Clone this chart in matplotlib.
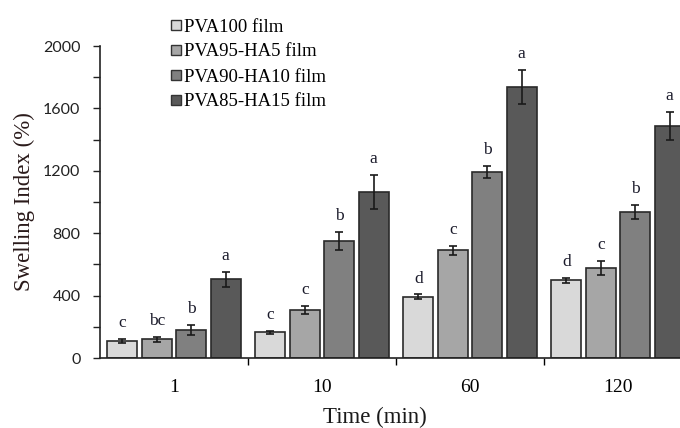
import matplotlib
matplotlib.use("Agg")
import matplotlib.pyplot as plt
from matplotlib.lines import Line2D
import numpy as np

times = ["1", "10", "60", "120"]
series_names = ["PVA100 film", "PVA95-HA5 film", "PVA90-HA10 film", "PVA85-HA15 film"]
colors = ["#d9d9d9", "#a6a6a6", "#808080", "#595959"]

pva100 = [110, 165, 393, 498]
pva95 = [120, 308, 690, 579]
pva90 = [180, 750, 1192, 934]
pva85 = [504, 1065, 1739, 1487]

err100 = [12, 8, 15, 18]
err95 = [15, 25, 30, 45]
err90 = [30, 60, 40, 45]
err85 = [50, 110, 110, 90]

let100 = ["c", "c", "d", "d"]
let95 = ["bc", "c", "c", "c"]
let90 = ["b", "b", "b", "b"]
let85 = ["a", "a", "a", "a"]

values = [pva100, pva95, pva90, pva85]
errors = [err100, err95, err90, err85]
letters = [let100, let95, let90, let85]

serif = ["Liberation Serif", "DejaVu Serif"]
sans = ["Lato", "DejaVu Sans"]

fig = plt.figure(figsize=(6.8, 4.28), dpi=100)
ax = fig.add_axes([100/680, 70/428, 592/680, 312/428])

x = np.arange(len(times))
w = 0.2
step = 0.233
edge = "#2a2a2a"
for i in range(4):
    pos = x + (i - 1.5) * step
    ax.bar(pos, values[i], width=w, color=colors[i], edgecolor=edge, linewidth=1.2, zorder=2)
    ax.errorbar(pos, values[i], yerr=errors[i], fmt="none", ecolor="#1a1a1a",
                elinewidth=1.2, capsize=3, capthick=1.2, zorder=3)
    for j in range(4):
        ax.text(pos[j], values[i][j] + errors[i][j] + 50, letters[i][j],
                ha="center", va="bottom", fontsize=12.5, family=serif, color="#1a1a2a")

ax.set_xlim(-0.5, 3.5)
ax.set_ylim(0, 2000)
ax.set_yticks(range(0, 2001, 400))
ax.set_yticks(range(200, 2000, 400), minor=True)
ax.tick_params(axis="y", which="both", direction="out", length=5, width=1, labelsize=11.5,
               colors="#222222", pad=9)
for lab in ax.get_yticklabels():
    lab.set_family(sans)

ax.set_xticks([0.5, 1.5, 2.5], minor=True)
ax.set_xticks(x)
ax.set_xticklabels(times, family=serif, fontsize=14)
ax.tick_params(axis="x", which="major", length=0, pad=15)
ax.tick_params(axis="x", which="minor", direction="out", length=5, width=1)

for s in ["top", "right"]:
    ax.spines[s].set_visible(False)
for s in ["left", "bottom"]:
    ax.spines[s].set_linewidth(1.2)
    ax.spines[s].set_color("#222222")

ax.set_ylabel("Swelling Index (%)", family=serif, fontsize=16.5, color="#2a1a1a")
ax.yaxis.set_label_coords(-76/592, 0.5)
ax.set_xlabel("Time (min)", family=serif, fontsize=16.5, color="#1a1a1a")
ax.xaxis.set_label_coords((375 - 100) / 592, -59/312)
ax.xaxis.label.set_va("center")
ax.yaxis.label.set_va("center")

handles = [Line2D([0], [0], marker="s", linestyle="none", markersize=7.5,
                  markerfacecolor=c, markeredgecolor="#333333", markeredgewidth=1)
           for c in colors]
leg = fig.legend(handles, series_names, loc="upper left", bbox_to_anchor=(160/680, 1 - 9/428),
                 frameon=False, prop={"family": serif, "size": 13.5},
                 handlelength=0.7, handletextpad=0.1, labelspacing=0.42, borderpad=0)

fig.savefig("out.png", dpi=100)
